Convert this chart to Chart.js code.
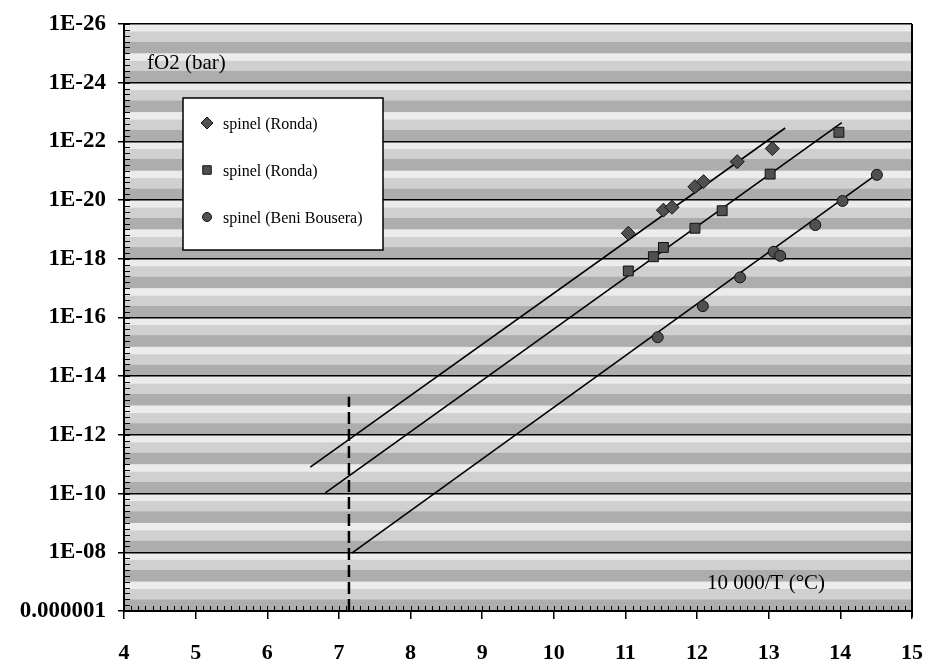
<!DOCTYPE html>
<html>
<head>
<meta charset="utf-8">
<script src="https://cdn.jsdelivr.net/npm/chart.js@4/dist/chart.umd.min.js"></script>
<style>
  html, body { margin: 0; padding: 0; background: #ffffff; }
  #wrap { width: 925px; height: 665px; }
</style>
</head>
<body>
<div id="wrap"><canvas id="c" width="925" height="665"></canvas></div>
<script>
// ---- data ----
const seriesNames = ['spinel (Ronda)', 'spinel (Ronda)', 'spinel (Beni Bousera)'];

const diamondX = [11.04, 11.53, 11.65, 11.97, 12.09, 12.56, 13.05];
const diamondY = [1.35e-19, 2.2e-20, 1.75e-20, 3.5e-21, 2.35e-21, 4.9e-22, 1.75e-22];

const squareX = [11.04, 11.39, 11.53, 11.97, 12.35, 13.02, 13.98];
const squareY = [2.6e-18, 8.5e-19, 4.1e-19, 9.1e-20, 2.3e-20, 1.3e-21, 4.9e-23];

const circleX = [11.45, 12.08, 12.6, 13.07, 13.16, 13.65, 14.03, 14.51];
const circleY = [4.7e-16, 4.1e-17, 4.3e-18, 5.75e-19, 7.9e-19, 7.1e-20, 1.07e-20, 1.38e-21];

// fitted lines (end points)
const diamondLineX = [6.6, 13.23];
const diamondLineY = [1.26e-11, 3.5e-23];
const squareLineX = [6.81, 14.02];
const squareLineY = [9.5e-11, 2.3e-23];
const circleLineX = [7.18, 14.53];
const circleLineY = [1.07e-8, 1.2e-21];

// vertical dashed reference line
const dashX = [7.14, 7.14];
const dashY = [1e-6, 5e-14];

const xTicks = [4, 5, 6, 7, 8, 9, 10, 11, 12, 13, 14, 15];
const yTickValues = [1e-26, 1e-24, 1e-22, 1e-20, 1e-18, 1e-16, 1e-14, 1e-12, 1e-10, 1e-8, 1e-6];
const yTickLabels = ['1E-26', '1E-24', '1E-22', '1E-20', '1E-18', '1E-16', '1E-14', '1E-12', '1E-10', '1E-08', '0.000001'];

const yAxisTitle = 'fO2 (bar)';
const xAxisTitle = '10 000/T (\u00B0C)';

// ---- helpers ----
const pts = (xs, ys) => xs.map((x, i) => ({ x: x, y: ys[i] }));
const SERIF = '"Liberation Serif", "DejaVu Serif", serif';
const markerFill = '#505050';
const markerEdge = '#111111';

const bandPlugin = {
  id: 'bands',
  beforeDraw(chart) {
    const { ctx, chartArea: a } = chart;
    const ys = chart.scales.y;
    ctx.save();
    ctx.fillStyle = '#ffffff';
    ctx.fillRect(a.left, a.top, a.right - a.left, a.bottom - a.top);
    for (let k = 6; k < 26; k++) {
      const yB = ys.getPixelForValue(Math.pow(10, -k));
      const yT = ys.getPixelForValue(Math.pow(10, -(k + 1)));
      const h = yB - yT;
      ctx.fillStyle = '#ececec';
      ctx.fillRect(a.left, yT, a.right - a.left, h * 0.25);
      ctx.fillStyle = '#d0d0d0';
      ctx.fillRect(a.left, yT + h * 0.25, a.right - a.left, h * 0.35);
      ctx.fillStyle = '#adadad';
      ctx.fillRect(a.left, yT + h * 0.6, a.right - a.left, h * 0.4);
    }
    ctx.restore();
  },
  afterDraw(chart) {
    const { ctx, chartArea: a } = chart;
    const xs = chart.scales.x, ys = chart.scales.y;
    ctx.save();
    // right border
    ctx.strokeStyle = '#000';
    ctx.lineWidth = 2;
    ctx.beginPath();
    ctx.moveTo(a.right, a.top);
    ctx.lineTo(a.right, a.bottom + 6);
    ctx.stroke();
    // minor ticks on x axis (inside)
    ctx.lineWidth = 1;
    for (let v = 4; v <= 15.0001; v += 0.1) {
      const px = Math.round(xs.getPixelForValue(v)) + 0.5;
      ctx.beginPath();
      ctx.moveTo(px, a.bottom);
      ctx.lineTo(px, a.bottom - 5);
      ctx.stroke();
    }
    // minor ticks on y axis (inside)
    for (let e = 6; e <= 26.0001; e += 0.2) {
      const py = Math.round(ys.getPixelForValue(Math.pow(10, -e))) + 0.5;
      ctx.beginPath();
      ctx.moveTo(a.left, py);
      ctx.lineTo(a.left + 6, py);
      ctx.stroke();
    }
    // axis titles inside plot
    ctx.fillStyle = '#000';
    ctx.font = '21px ' + SERIF;
    ctx.textBaseline = 'middle';
    ctx.textAlign = 'left';
    ctx.fillText(yAxisTitle, a.left + 23, a.top + 39);
    ctx.fillText(xAxisTitle, a.left + 583, a.bottom - 28);

    // legend box
    const lx = a.left + 59, ly = a.top + 74, lw = 200, lh = 152;
    ctx.fillStyle = '#ffffff';
    ctx.fillRect(lx, ly, lw, lh);
    ctx.strokeStyle = '#000';
    ctx.lineWidth = 1.5;
    ctx.strokeRect(lx, ly, lw, lh);
    const items = chart.data.datasets.filter(d => d.legend);
    ctx.font = '16px ' + SERIF;
    items.forEach((d, i) => {
      const cy = ly + 25 + i * 47;
      ctx.fillStyle = d.backgroundColor;
      ctx.strokeStyle = d.borderColor;
      ctx.lineWidth = 1;
      Chart.helpers.drawPoint(ctx, { pointStyle: d.pointStyle, radius: d.pointRadius - 1, borderWidth: 1, rotation: 0 }, lx + 24, cy);
      ctx.fillStyle = '#000';
      ctx.fillText(d.label, lx + 40, cy + 2);
    });
    ctx.restore();
  }
};

new Chart(document.getElementById('c'), {
  type: 'scatter',
  data: {
    datasets: [
      { label: 'line1', data: pts(diamondLineX, diamondLineY), showLine: true, borderColor: '#000', borderWidth: 1.6, pointRadius: 0, fill: false, order: 2 },
      { label: 'line2', data: pts(squareLineX, squareLineY), showLine: true, borderColor: '#000', borderWidth: 1.6, pointRadius: 0, fill: false, order: 2 },
      { label: 'line3', data: pts(circleLineX, circleLineY), showLine: true, borderColor: '#000', borderWidth: 1.6, pointRadius: 0, fill: false, order: 2 },
      { label: 'dash', data: pts(dashX, dashY), showLine: true, borderColor: '#000', borderWidth: 2.5, borderDash: [12, 5], pointRadius: 0, fill: false, order: 2 },
      { label: seriesNames[0], legend: true, data: pts(diamondX, diamondY), pointStyle: 'rectRot', pointRadius: 7, backgroundColor: markerFill, borderColor: markerEdge, borderWidth: 1, order: 1 },
      { label: seriesNames[1], legend: true, data: pts(squareX, squareY), pointStyle: 'rect', pointRadius: 7, backgroundColor: markerFill, borderColor: markerEdge, borderWidth: 1, order: 1 },
      { label: seriesNames[2], legend: true, data: pts(circleX, circleY), pointStyle: 'circle', pointRadius: 5.5, backgroundColor: markerFill, borderColor: markerEdge, borderWidth: 1, order: 1 }
    ]
  },
  options: {
    responsive: false,
    animation: false,
    devicePixelRatio: 1,
    layout: { padding: { top: 24, right: 13, left: 0, bottom: 0 } },
    plugins: { legend: { display: false }, tooltip: { enabled: false } },
    scales: {
      x: {
        type: 'linear', min: 4, max: 15,
        afterBuildTicks: s => { s.ticks = xTicks.map(v => ({ value: v })); },
        afterFit: s => { s.height = 54; s.paddingLeft = 0; s.paddingRight = 0; },
        ticks: { color: '#000', font: { family: SERIF, size: 22, weight: 'bold' }, padding: 21, maxRotation: 0, callback: v => String(v) },
        grid: { drawOnChartArea: false, color: '#000', lineWidth: 1.5, tickLength: 8 },
        border: { color: '#000', width: 2 }
      },
      y: {
        type: 'logarithmic', reverse: true, min: 1e-26, max: 1e-6,
        afterBuildTicks: s => { s.ticks = yTickValues.map(v => ({ value: v })); },
        afterFit: s => { s.width = 124; s.paddingTop = 0; s.paddingBottom = 0; },
        ticks: {
          color: '#000', font: { family: SERIF, size: 23, weight: 'bold' }, padding: 12,
          callback: v => {
            const i = yTickValues.findIndex(t => Math.abs(Math.log10(t) - Math.log10(v)) < 1e-6);
            return i >= 0 ? yTickLabels[i] : '';
          }
        },
        grid: { color: '#000', lineWidth: 1.5, tickLength: 6 },
        border: { color: '#000', width: 2 }
      }
    }
  },
  plugins: [bandPlugin]
});
</script>
</body>
</html>
